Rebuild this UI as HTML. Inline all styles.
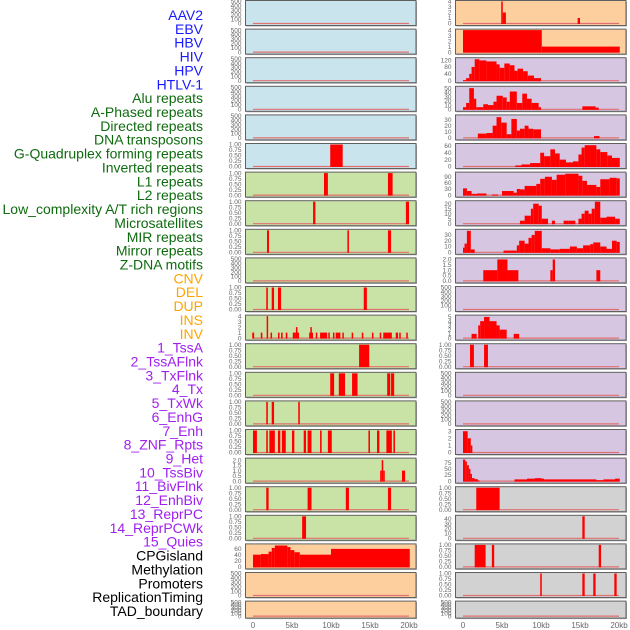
<!DOCTYPE html>
<html><head><meta charset="utf-8"><style>
html,body{margin:0;padding:0;background:#fff;width:630px;height:630px;overflow:hidden}
svg{display:block}
</style></head><body>
<svg id="chart" width="630" height="630" viewBox="0 0 630 630" xmlns="http://www.w3.org/2000/svg" font-family="Liberation Sans, sans-serif"></svg>
<script>
const labels=["AAV2","EBV","HBV","HIV","HPV","HTLV-1","Alu repeats","A-Phased repeats","Directed repeats","DNA transposons","G-Quadruplex forming repeats","Inverted repeats","L1 repeats","L2 repeats","Low_complexity A/T rich regions","Microsatellites","MIR repeats","Mirror repeats","Z-DNA motifs","CNV","DEL","DUP","INS","INV","1_TssA","2_TssAFlnk","3_TxFlnk","4_Tx","5_TxWk","6_EnhG","7_Enh","8_ZNF_Rpts","9_Het","10_TssBiv","11_BivFlnk","12_EnhBiv","13_ReprPC","14_ReprPCWk","15_Quies","CPGisland","Methylation","Promoters","ReplicationTiming","TAD_boundary"];
const labelGroups=[6,13,5,15,5];
const xTickKb=[0,5,10,15,20];
const xTickLabels=["0","5kb","10kb","15kb","20kb"];
const T500=[0,100,200,300,400,500];
const T1=[0,0.25,0.5,0.75,1];
const leftBg=["b","b","b","b","b","b","g","g","g","g","g","g","g","g","g","g","g","g","g","o","o","o"];
const rightBg=["o","o","p","p","p","p","p","p","p","p","p","p","p","p","p","p","p","g2","g2","g2","g2","g2"];
const leftMax=[500,500,500,500,500,1,1,1,1,500,1,4,1,1,1,1,2.1,1,1,72,500,500];
const rightMax=[4,4,128,52,36,64,108,22,38,2.05,500,5.2,1,500,500,3.1,90,1,45,1,1,500];
const leftTicks=[T500,T500,T500,T500,T500,T1,T1,T1,T1,T500,T1,[0,1,2,3,4],T1,T1,T1,T1,[0,0.5,1,1.5,2],T1,T1,[0,20,40,60],T500,T500];
const rightTicks=[[0,1,2,3,4],[0,1,2,3,4],[0,40,80,120],[0,10,20,30,40,50],[0,10,20,30],[0,20,40,60],[0,30,60,90],[0,5,10,15,20],[0,10,20,30],[0,0.5,1,1.5,2],T500,[0,1,2,3,4,5],T1,T500,T500,[0,1,2,3],[0,25,50,75],T1,[0,10,20,30,40],T1,T1,T500];
const leftBars=[[],[],[],[],[],
[[9.9,11.5,1]],
[[9.1,9.6,1],[17.3,17.9,1]],
[[7.7,8.0,1],[19.6,20.0,1]],
[[1.8,2.05,1],[12.1,12.3,1],[17.3,17.7,1]],
[],
[[1.7,1.9,1],[2.4,2.7,1],[3.2,3.6,1],[14.2,14.6,1]],
[[-0.1,0.15,1],[1.0,1.2,1],[1.75,1.9,4],[2.25,2.4,1],[3.2,3.4,1],[3.6,3.8,1],[4.2,4.4,1],[5.1,5.5,1],[5.5,5.7,2],[5.7,5.9,1],[7.2,7.35,1],[7.35,7.5,2],[7.5,7.6,1],[8.05,8.2,1],[8.6,9.5,1],[9.65,9.8,1],[10.25,10.4,1],[10.6,11.2,1],[11.45,11.6,1],[12.65,12.8,1],[13.95,14.1,1],[15.25,15.4,1],[16.25,16.4,1],[16.7,17.8,1],[18.3,18.6,1],[18.75,18.9,1],[19.65,19.8,1]],
[[13.6,14.9,1]],
[[9.9,10.4,1],[11.0,11.8,1],[12.7,13.4,1],[17.2,17.6,1],[17.7,18.1,1]],
[[1.7,1.9,1],[2.4,2.7,1],[5.8,6.0,1]],
[[0,0.5,1],[1.7,1.9,1],[2.1,2.8,1],[3.2,3.5,1],[3.7,4.2,1],[5.0,5.3,1],[6.5,6.8,1],[7.0,7.5,1],[8.6,8.8,1],[9.6,10.1,1],[14.8,15.0,1],[15.9,16.2,1],[17.1,17.8,1],[18.0,18.2,1]],
[[16.3,16.5,1],[16.5,16.7,2],[16.7,16.8,1],[19.1,19.5,1]],
[[1.7,2.0,1],[7.0,7.5,1],[11.9,12.3,1],[17.3,17.7,1]],
[[6.3,6.8,1]],
[[0,1,40],[1,2,42],[2,2.4,50],[2.4,2.8,62],[2.8,4.4,70],[4.4,4.8,65],[4.8,5.3,55],[5.3,6,48],[6,10,40],[10,20.1,59]],
[],[]];
const rightBars=[
[[4.9,5.1,4],[5.1,5.5,2],[14.7,15.0,1]],
[[0,10.1,4],[10.1,20.1,1]],
[[0,0.4,3],[0.4,0.8,15],[0.8,1.1,40],[1.1,1.5,80],[1.5,2.1,125],[2.1,3,118],[3,4.3,112],[4.3,4.7,95],[4.7,5.3,75],[5.3,6,100],[6,6.6,90],[6.6,7,58],[7,7.7,70],[7.7,8.3,55],[8.3,9.1,30],[9.1,10,15]],
[[0,0.4,5],[0.4,0.8,15],[0.8,1.4,50],[1.4,1.7,25],[1.7,2.6,5],[2.6,3.2,12],[3.2,3.9,10],[3.9,4.3,18],[4.3,5.1,32],[5.1,5.6,28],[5.6,6.0,18],[6.0,6.9,42],[6.9,7.6,15],[7.6,8.2,37],[8.2,8.8,25],[8.8,9.7,15],[9.7,10,5],[15.3,17,7],[17,17.4,4]],
[[1.9,3.0,7],[3.0,3.8,8],[3.8,4.3,20],[4.3,4.9,34],[4.9,5.6,25],[5.6,6.2,6],[6.2,6.9,31],[6.9,7.3,12],[7.3,7.9,15],[7.9,8.4,20],[8.4,9.0,15],[9.0,10,14],[16.8,17.5,3]],
[[6.7,7.5,3],[7.5,8.6,6],[8.6,9.9,10],[9.9,10.4,40],[10.4,11.2,30],[11.2,11.8,50],[11.8,12.4,38],[12.4,13.2,20],[13.2,14.1,12],[14.1,14.8,15],[14.8,15.2,35],[15.2,15.6,55],[15.6,17.1,62],[17.1,17.6,50],[17.6,18.5,42],[18.5,19.1,32],[19.1,20.1,25]],
[[0,0.5,33],[0.5,1.1,20],[1.1,1.8,6],[1.8,3,8],[3.7,4.5,3],[5,6.5,20],[6.5,6.9,12],[6.9,7.3,30],[7.3,7.9,28],[7.9,9.4,45],[9.4,9.9,55],[9.9,10.5,80],[10.5,11.4,90],[11.4,12,75],[12,13.1,100],[13.1,14.8,105],[14.8,15.3,95],[15.3,15.9,70],[15.9,17.1,50],[17.1,17.6,40],[17.6,18.8,78],[18.8,19.7,85],[19.7,20.1,82]],
[[7.3,7.9,3],[7.9,8.7,8],[8.7,9,15],[9,9.7,20],[9.7,10.1,18],[10.1,10.9,5],[11.4,11.8,3],[12.9,13.5,3],[13.5,14.4,3],[14.8,15.2,5],[15.2,15.6,10],[15.6,16.1,13],[16.1,16.5,10],[16.5,16.9,15],[16.9,17.6,22],[17.6,18.4,6],[18.4,19.5,7],[19.5,20.1,5]],
[[0,0.2,8],[0.2,0.5,15],[0.5,1,37],[1,1.5,5],[5.2,6.9,3],[6.9,7.2,12],[7.2,7.9,20],[7.9,8.4,15],[8.4,8.8,25],[8.8,9.2,30],[9.2,10.1,37],[10.1,11.2,7],[11.2,12.4,5],[12.4,13.7,6],[13.7,14.6,10],[14.6,15.4,7],[15.4,16.3,12],[16.3,16.7,14],[16.7,17.6,17],[17.6,18.4,10],[18.4,19.1,6],[19.1,19.7,20],[19.7,20.1,18]],
[[2.6,4.4,1],[4.4,5.7,2],[5.7,7.1,1],[11.2,11.5,1],[11.5,11.8,2],[17.1,17.6,1]],
[],
[[1.1,1.75,1],[1.95,2.2,3],[2.2,2.7,4],[2.7,3.4,5],[3.4,4.3,4],[4.3,4.7,3],[4.7,5.6,2],[6.5,7.2,1]],
[[0.9,1.4,1],[2.7,3.2,1]],
[],[],
[[0,0.6,3],[0.6,1.0,2],[1.0,1.2,1]],
[[0,0.3,88],[0.3,0.5,80],[0.5,0.75,65],[0.75,0.95,50],[0.95,1.15,30],[1.15,1.5,12],[1.5,1.9,8],[1.9,2.1,3],[6.6,8.2,7],[8.2,9.2,10],[9.2,10.1,12],[10.1,10.4,10],[10.4,17.1,7],[17.1,18,4],[18,19.5,7],[19.5,20.1,10]],
[[1.7,4.7,1]],
[[15.3,15.6,45]],
[[1.5,2.9,1],[3.7,4.0,1],[17.4,17.7,1]],
[[9.9,10.1,1],[15.3,15.6,1],[16.7,17.0,1],[19.4,19.7,1]],
[]];

const NS="http://www.w3.org/2000/svg";
const svg=document.getElementById('chart');
const bgColors={b:"#c9e4ec",g:"#c9e2a5",o:"#fecf9e",p:"#d6c6e2",g2:"#d2d2d2"};
function mk(tag,attrs,parent){const e=document.createElementNS(NS,tag);for(const k in attrs)e.setAttribute(k,attrs[k]);(parent||svg).appendChild(e);return e;}
function rowTop(i){return i*28.6;}
function rowH(i){return i===21?17:25;}
function xScale(col,kb){return (col===0?253:463)+kb*7.8;}
function yScale(i,v,max){const b=rowTop(i)+rowH(i)-1.5;return b-(v/max)*(rowH(i)-3);}
function fmt(t,ticks){if(ticks===T1)return t.toFixed(2);if(ticks.some(x=>x%1!==0))return t.toFixed(1);return String(t);}

const groupColors=["#1a1aff","#0f6b0f","#ffa500","#a020f0","#000000"];
let gi=0,gc=0;
labels.forEach((s,k)=>{
  while(gc>=labelGroups[gi]){gi++;gc=0;}
  gc++;
  const t=mk('text',{x:203,y:15+k*13.86+5,'text-anchor':'end','font-size':14,fill:groupColors[gi]});
  t.textContent=s;
  
  
});

function drawPanel(col,i,bgKey,max,ticks,bars){
  const x0=col===0?245.5:455.5, w=170.5, top=rowTop(i)+0.5, h=rowH(i);
  const g=mk('g',{});
  
  
  mk('rect',{x:x0+1,y:top+1,width:w,height:h,fill:'#aaa'},g);
  mk('rect',{x:x0,y:top,width:w,height:h,fill:bgColors[bgKey],stroke:'#606060','stroke-width':1},g);
  ticks.forEach(t=>{
    const tx=mk('text',{x:x0-4,y:yScale(i,t,ticks[ticks.length-1]>max?ticks[ticks.length-1]:max)+2.2,'text-anchor':'end','font-size':6.5,fill:'#666'},g);
    tx.textContent=fmt(t,ticks);
    
    
  });
  const yb=yScale(i,0,max);
  mk('line',{x1:xScale(col,0),x2:xScale(col,20),y1:yb,y2:yb,stroke:'#e07070','stroke-width':1.2},g);
  bars.forEach(b=>{
    const x1=xScale(col,b[0]),x2=xScale(col,b[1]),y=yScale(i,b[2],max);
    const r=mk('rect',{x:x1,y:y,width:Math.max(1.5,x2-x1),height:Math.max(0,yb-y+0.5),fill:'#ff0000'},g);
    
    
  });
}
for(let i=0;i<22;i++){
  drawPanel(0,i,leftBg[i],leftMax[i],leftTicks[i],leftBars[i]);
  drawPanel(1,i,rightBg[i],rightMax[i],rightTicks[i],rightBars[i]);
}
[0,1].forEach(col=>{
  xTickKb.forEach((kb,k)=>{
    const t=mk('text',{x:xScale(col,kb),y:628,'text-anchor':'middle','font-size':8,fill:'#666'});
    t.textContent=xTickLabels[k];
    
    
  });
});
</script>
</body></html>
